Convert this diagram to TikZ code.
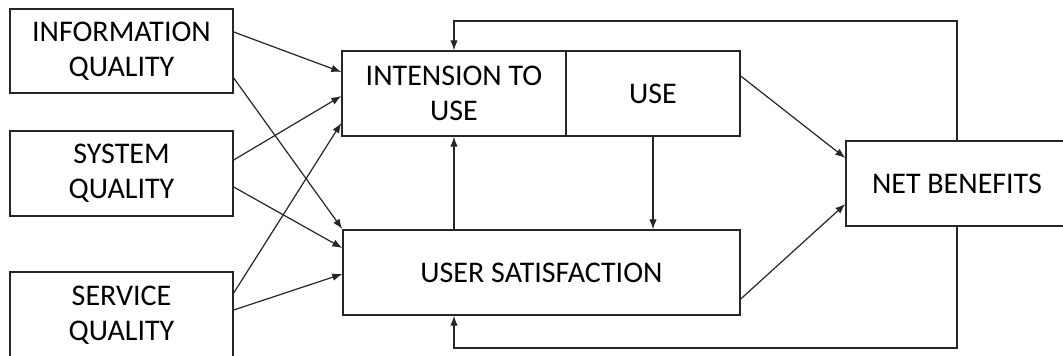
\documentclass[tikz,border=0pt]{standalone}
\usepackage{fontspec}
\setmainfont{Carlito}
\usetikzlibrary{arrows.meta}
\begin{document}
\begin{tikzpicture}[x=1pt,y=-1pt,
  box/.style={draw=black!85, line width=1.4pt, rectangle, inner sep=0pt,
    align=center, font=\fontsize{30}{35}\selectfont},
  link/.style={draw=black!85, line width=1.2pt, -{Latex[length=10pt,width=7.5pt]}}]
\clip (0,0) rectangle (1063,356);
\fill[white] (0,0) rectangle (1063,356);

% quality inputs
\node[box, minimum width=223pt, minimum height=84pt] (info) at (121.5,51) {INFORMATION\\QUALITY};
\node[box, minimum width=223pt, minimum height=85pt] (sys) at (121.5,173.5) {SYSTEM\\QUALITY};
\node[box, minimum width=223pt, minimum height=86pt] (serv) at (121.5,315) {SERVICE\\QUALITY};

% use / intention and satisfaction
\node[box, minimum width=224pt, minimum height=85pt] (int) at (454,93.5) {INTENSION TO\\USE};
\node[box, minimum width=174pt, minimum height=85pt] (use) at (653,93.5) {USE};
\node[box, minimum width=397pt, minimum height=85pt] (us) at (541.5,272.5) {USER SATISFACTION};

% outcome
\node[box, minimum width=222pt, minimum height=85pt] (net) at (957,183.5) {NET BENEFITS};

% loop levels
\coordinate (top) at (0,21);
\coordinate (bot) at (0,348);

% quality -> intention / satisfaction
\draw[link] (info.east |- 0,32) -- (int.west |- 0,72);
\draw[link] (info.east |- 0,78) -- (us.west |- 0,229);
\draw[link] (sys.east |- 0,160) -- (int.west |- 0,96);
\draw[link] (sys.east |- 0,187) -- (us.west |- 0,248);
\draw[link] (serv.east |- 0,293) -- (int.west |- 0,123);
\draw[link] (serv.east |- 0,310) -- (us.west |- 0,274);

% between intention, use and satisfaction
\draw[link] (us.north -| int.south) -- (int.south);
\draw[link] (use.south) -- (use.south |- us.north);

% to net benefits
\draw[link] (use.east |- 0,76) -- (net.west |- 0,158);
\draw[link] (us.east |- 0,299) -- (net.west |- 0,204);

% feedback loops
\draw[link] (net.north) -- (net.north |- top) -| (int.north);
\draw[link] (net.south) -- (net.south |- bot) -| (us.south -| int.south);
\end{tikzpicture}
\end{document}
